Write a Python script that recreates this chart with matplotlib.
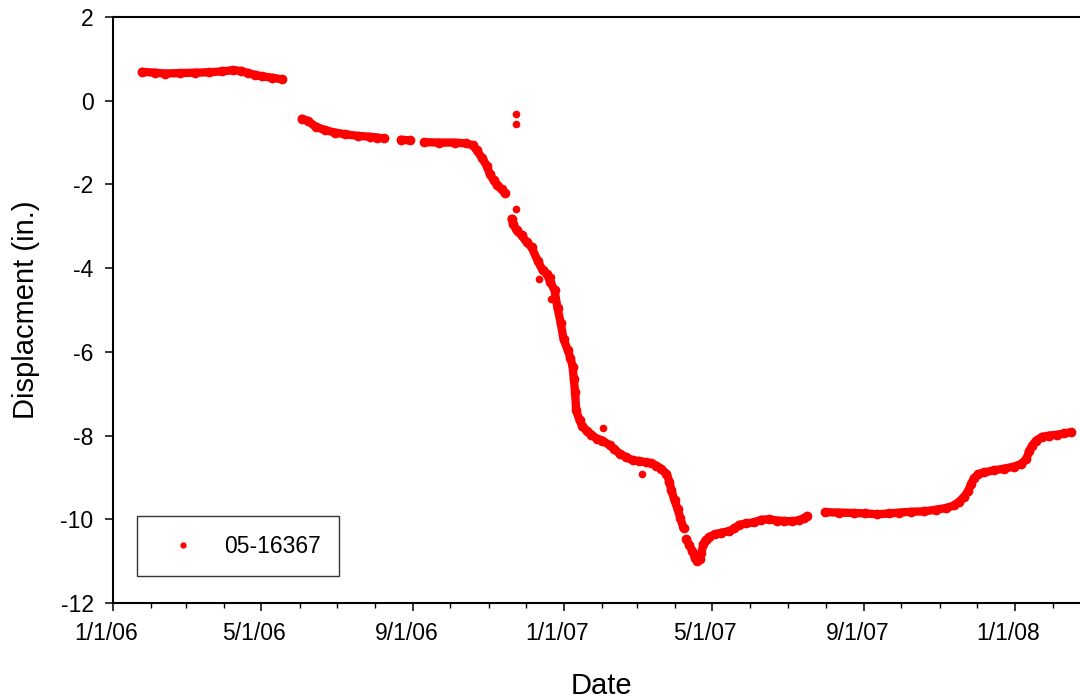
import numpy as np
import matplotlib
matplotlib.use("Agg")
import matplotlib.pyplot as plt
import matplotlib.dates as mdates
from matplotlib.lines import Line2D
from matplotlib.ticker import FuncFormatter
from matplotlib.transforms import ScaledTranslation

plt.rcParams['font.family'] = ['Liberation Sans', 'DejaVu Sans']
plt.rcParams['axes.unicode_minus'] = False

# readings as days since 1/1/06, displacement in inches
days_a = [23.4, 34, 42, 54, 66, 78, 88, 97, 104, 109, 115, 121, 129, 137]
disp_a = [0.69, 0.67, 0.65, 0.66, 0.67, 0.68, 0.70, 0.73, 0.71, 0.66, 0.62, 0.58, 0.55, 0.51]

days_b = [152.8, 157.7, 164, 171.4, 179.5, 187.6, 198, 208, 214, 219]
disp_b = [-0.43, -0.48, -0.62, -0.70, -0.76, -0.80, -0.84, -0.86, -0.88, -0.90]

days_b2 = [233, 240]
disp_b2 = [-0.93, -0.95]

days_c = [252, 264, 276.5, 285.4, 291, 294.3, 299, 302.4, 305, 308, 311, 314.5, 317]
disp_c = [-0.99, -1.00, -1.00, -1.02, -1.06, -1.18, -1.38, -1.55, -1.75, -1.90, -2.02, -2.12, -2.20]

days_d = [322.6, 324, 326.7, 330.7, 334.8, 338.8, 343.7, 347.7, 351, 354, 357.4, 359.8,
          362.3, 364.7, 368, 370.3, 372, 373, 374, 374.9, 377.6, 380, 383.3, 387.3, 391.4,
          396.2, 401.9, 405.9, 410, 415.6, 420.5, 426.1, 431.8, 435.8, 439.9, 443.9, 448,
          450.4, 452, 454.5, 457, 459.3, 461.8]
disp_d = [-2.82, -2.95, -3.10, -3.22, -3.38, -3.50, -3.82, -4.05, -4.13, -4.33, -4.53, -4.95,
          -5.30, -5.70, -5.95, -6.15, -6.35, -6.65, -6.95, -7.40, -7.63, -7.78, -7.88, -7.98,
          -8.07, -8.12, -8.23, -8.33, -8.43, -8.52, -8.59, -8.61, -8.64, -8.66, -8.72, -8.80,
          -8.91, -9.10, -9.31, -9.55, -9.75, -9.98, -10.22]

days_e = [464.1, 466.5, 469, 471, 473, 475, 476.3, 477.9, 479.6, 482.8, 486.9, 492.5, 499,
          503, 507, 512.7, 519.2, 524.8, 531.3, 537.7, 543.4, 549.9, 555.5, 559.5, 562]
disp_e = [-10.48, -10.62, -10.76, -10.92, -11.00, -10.96, -10.80, -10.60, -10.50, -10.42,
          -10.36, -10.32, -10.28, -10.22, -10.13, -10.10, -10.07, -10.01, -10.00, -10.03,
          -10.04, -10.05, -10.02, -9.97, -9.92]

days_f = [576.5, 587.9, 600, 608.9, 618.6, 628.3, 636.4, 646, 656.6, 666.3, 674.4, 680.8,
          684.9, 688.9, 692.2, 694.6, 697, 700.2, 705.1, 713.2, 721.3, 729.4, 735, 739.1,
          741.5, 744, 747.2, 752, 757.7, 764.2, 769.8, 775.5]
disp_f = [-9.83, -9.84, -9.85, -9.86, -9.88, -9.86, -9.84, -9.82, -9.81, -9.77, -9.73, -9.67,
          -9.58, -9.46, -9.33, -9.15, -9.02, -8.92, -8.88, -8.83, -8.79, -8.74, -8.68, -8.57,
          -8.38, -8.24, -8.12, -8.03, -8.00, -7.98, -7.95, -7.92]

days_out = [326.4, 326.4, 326.4, 344.7, 354.2, 354.2, 396.5, 428.3]
disp_out = [-0.32, -0.55, -2.59, -4.25, -4.21, -4.74, -7.83, -8.93]

series_label = "05-16367"
start = np.datetime64('2006-01-01T00:00')


def to_dates(days):
    return start + (np.asarray(days) * 24 * 60).astype('timedelta64[m]')


fig = plt.figure(figsize=(10.8, 7), dpi=100)
ax = fig.add_axes([113 / 1080, 97 / 700, 976 / 1080, 586 / 700])

red = '#ff0000'
for d, v in [(days_a, disp_a), (days_b, disp_b), (days_b2, disp_b2), (days_c, disp_c),
             (days_d, disp_d), (days_e, disp_e), (days_f, disp_f)]:
    ax.plot(to_dates(d), v, color=red, lw=6, marker='o', ms=6, mec=red,
            solid_capstyle='round', solid_joinstyle='round')
ax.plot(to_dates(days_out), disp_out, ls='none', marker='o', ms=4.5, color=red, mec=red)

ax.set_xlim(np.datetime64('2006-01-01'), np.datetime64('2008-03-01'))
ax.set_ylim(-12, 2)
ax.set_yticks(np.arange(-12, 3, 2))

ax.xaxis.set_major_locator(mdates.MonthLocator(bymonth=[1, 5, 9]))
ax.xaxis.set_minor_locator(mdates.MonthLocator())
ax.xaxis.set_major_formatter(FuncFormatter(
    lambda x, pos: (lambda d: f"{d.month}/{d.day}/{d.year % 100:02d}")(mdates.num2date(x))))

for s in ax.spines.values():
    s.set_linewidth(1.5)
ax.tick_params(axis='both', which='major', direction='out', length=6, width=1.1,
               labelsize=16.5, pad=8)
ax.tick_params(axis='x', which='minor', direction='out', length=3.8, width=1.0)

for lab in ax.get_xticklabels():
    lab.set_transform(lab.get_transform() + ScaledTranslation(-5 / 72, 0, fig.dpi_scale_trans))

ax.set_xlabel("Date", fontsize=21, labelpad=19)
ax.set_ylabel("Displacment (in.)", fontsize=21, labelpad=15)

handle = Line2D([], [], ls='none', marker='o', ms=3.5, color=red)
leg = ax.legend([handle], [series_label], loc='lower left',
                bbox_to_anchor=(24 / 976, 27 / 586), borderaxespad=0,
                fontsize=16.5, frameon=True, fancybox=False, borderpad=0.8,
                handlelength=2.4, handletextpad=0.6)
leg.get_frame().set_edgecolor('black')
leg.get_frame().set_linewidth(1.0)

fig.savefig("out.png", dpi=100)
